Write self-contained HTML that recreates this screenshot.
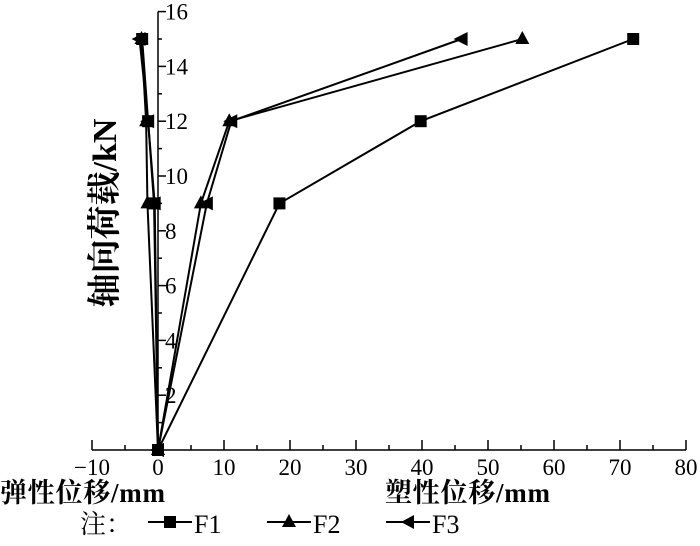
<!DOCTYPE html>
<html><head><meta charset="utf-8"><style>
body{margin:0;background:#fff;}
svg text{font-family:"Liberation Serif","Noto Serif CJK SC",serif;fill:#000;}
</style></head><body>
<svg width="700" height="541" viewBox="0 0 700 541">
<g id="axes"></g><g id="series"></g>
<text x="0" y="502" font-size="27" textLength="165" font-weight="bold">弹性位移/mm</text>
<text x="385" y="502" font-size="27" textLength="165" font-weight="bold">塑性位移/mm</text>
<text transform="translate(116,213) rotate(-90)" text-anchor="middle" font-size="34" font-weight="bold">轴向荷载/kN</text>
<g>
<text x="80" y="533" font-size="26">注：</text>
<g><line x1="148" y1="522" x2="192" y2="522" stroke="#000" stroke-width="2"/><rect x="164" y="516" width="12" height="12"/><text x="194" y="533" font-size="26">F1</text></g>
<g><line x1="267" y1="522" x2="311" y2="522" stroke="#000" stroke-width="2"/><polygon points="289,514 296,527 282,527"/><text x="313" y="533" font-size="26">F2</text></g>
<g><line x1="386" y1="522" x2="430" y2="522" stroke="#000" stroke-width="2"/><polygon points="401,522 414,515 414,529"/><text x="432" y="533" font-size="26">F3</text></g>
</g>
</svg>
<script>
const loads=[0,9,12,15];
const f1Elastic=[0,-0.6,-1.5,-2.4];
const f1Plastic=[0,18.4,39.8,72];
const f2Elastic=[0,-1.6,-1.8,-2.5];
const f2Plastic=[0,6.5,10.8,55.2];
const f3Elastic=[0,-0.5,-1.5,-2.8];
const f3Plastic=[0,7.4,11.1,46];
const xTicks=[-10,0,10,20,30,40,50,60,70,80];
const yTicks=[2,4,6,8,10,12,14,16];
const NS="http://www.w3.org/2000/svg";
const X=v=>158+v*6.6, Y=v=>450-v*27.4;
function mk(t,a,p){const e=document.createElementNS(NS,t);for(const k in a)e.setAttribute(k,a[k]);p.appendChild(e);return e;}
const ax=document.getElementById('axes');
let l=mk('line',{x1:X(-10),y1:450,x2:X(80),y2:450,stroke:'#000','stroke-width':1.5},ax);


for(let v=-10;v<=80;v+=5){const t=mk('line',{x1:X(v),y1:450,x2:X(v),y2:v%10===0?440:445,stroke:'#000','stroke-width':1.5},ax);

}
xTicks.forEach(v=>{const t=mk('text',{x:X(v),y:475,'text-anchor':'middle','font-size':23},ax);t.textContent=v<0?'−'+(-v):v;

});
l=mk('line',{x1:158,y1:450,x2:158,y2:Y(16),stroke:'#000','stroke-width':1.5},ax);


for(let v=1;v<=16;v++){const t=mk('line',{x1:158,y1:Y(v),x2:v%2===0?166:162,y2:Y(v),stroke:'#000','stroke-width':1.5},ax);

}
yTicks.forEach(v=>{const t=mk('text',{x:165,y:Y(v)+8,'font-size':23},ax);t.textContent=v;

});
const sg=document.getElementById('series');
function marker(type,x,y,g){
 if(type==='sq')return mk('rect',{x:x-6,y:y-6,width:12,height:12},g);
 if(type==='up')return mk('polygon',{points:`${x},${y-8} ${x+7},${y+5} ${x-7},${y+5}`},g);
 return mk('polygon',{points:`${x-8},${y} ${x+6},${y-7} ${x+6},${y+7}`},g);}
function series(xs,type,name){
 const g=mk('g',{},sg);
 
 
 const pl=mk('polyline',{points:xs.map((v,i)=>X(v)+','+Y(loads[i])).join(' '),fill:'none',stroke:'#000','stroke-width':2},g);
 
 
 xs.forEach((v,i)=>{const m=marker(type,X(v),Y(loads[i]),g);
 
 });}
series(f1Elastic,'sq','f1-elastic');series(f1Plastic,'sq','f1-plastic');
series(f2Elastic,'up','f2-elastic');series(f2Plastic,'up','f2-plastic');
series(f3Elastic,'left','f3-elastic');series(f3Plastic,'left','f3-plastic');
</script>
</body></html>
